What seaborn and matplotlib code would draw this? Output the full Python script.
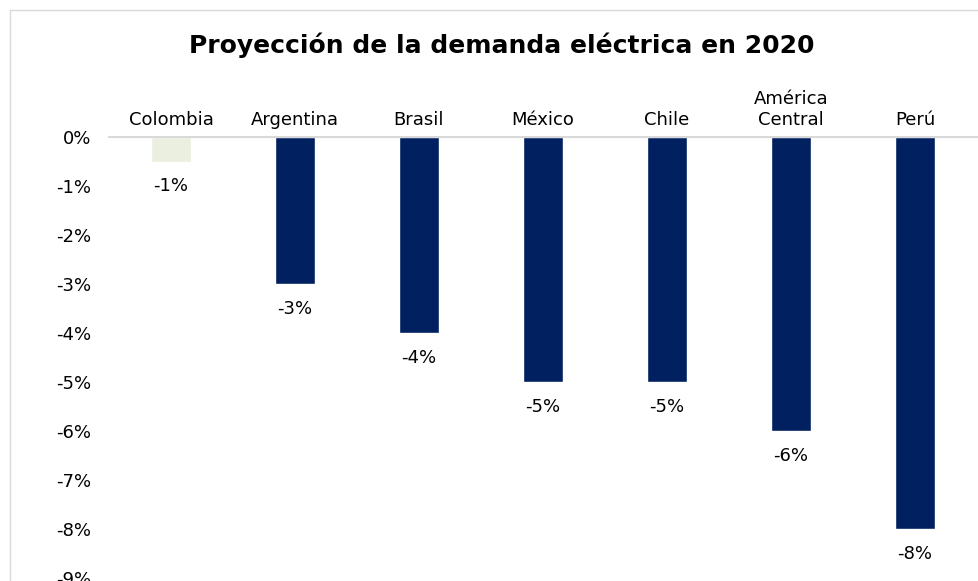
import matplotlib
matplotlib.use("Agg")
import matplotlib.pyplot as plt
import seaborn as sns
from matplotlib.lines import Line2D

countries = ["Colombia", "Argentina", "Brasil", "México", "Chile", "América\nCentral", "Perú"]
values = [-0.5, -3, -4, -5, -5, -6, -8]
value_labels = ["-1%", "-3%", "-4%", "-5%", "-5%", "-6%", "-8%"]
colors = ["#EBEFDF", "#002060", "#002060", "#002060", "#002060", "#002060", "#002060"]
yticks = [0, -1, -2, -3, -4, -5, -6, -7, -8, -9]
ytick_labels = ["0%", "-1%", "-2%", "-3%", "-4%", "-5%", "-6%", "-7%", "-8%", "-9%"]
title = "Proyección de la demanda eléctrica en 2020"

sns.set_style("white")
plt.rcParams['font.family'] = ['DejaVu Sans']
plt.rcParams['text.color'] = 'black'
plt.rcParams['xtick.color'] = 'black'
plt.rcParams['ytick.color'] = 'black'

W, H = 979, 581
fig = plt.figure(figsize=(W / 100, H / 100), dpi=100)
ax = fig.add_axes([109 / W, 3 / H, (977 - 109) / W, (578 - 137) / H])

sns.barplot(x=countries, y=values, hue=countries, palette=colors, legend=False,
            width=0.315, ax=ax, saturation=1)

ax.set_ylim(-9, 0)
ax.set_xlim(-0.5, len(countries) - 0.5)
ax.set_yticks(yticks)
ax.set_yticklabels(ytick_labels, fontsize=13)
ax.tick_params(axis='y', length=0, pad=13, labelcolor='black')
ax.xaxis.tick_top()
ax.tick_params(axis='x', length=0, pad=6, labelsize=13, labelcolor='black')
ax.set_xlabel("")
ax.set_ylabel("")
for s in ["left", "right", "bottom"]:
    ax.spines[s].set_visible(False)
ax.spines["top"].set_color("#D9D9D9")
ax.spines["top"].set_linewidth(1.5)

for i, (v, lab) in enumerate(zip(values, value_labels)):
    ax.annotate(lab, xy=(i, v), xytext=(0, -11.5), textcoords="offset points",
                ha="center", va="top", fontsize=13, color="black")

fig.text(502 / W, 1 - 45 / H, title, ha="center", va="center",
         fontsize=18, fontweight="bold", color="black")

# chart frame
fig.add_artist(Line2D([9.5 / W, 9.5 / W], [0, 1 - 9.5 / H], transform=fig.transFigure,
                      color="#D9D9D9", lw=1))
fig.add_artist(Line2D([9.5 / W, 1], [1 - 9.5 / H, 1 - 9.5 / H], transform=fig.transFigure,
                      color="#D9D9D9", lw=1))

fig.savefig("out.png", dpi=100)
